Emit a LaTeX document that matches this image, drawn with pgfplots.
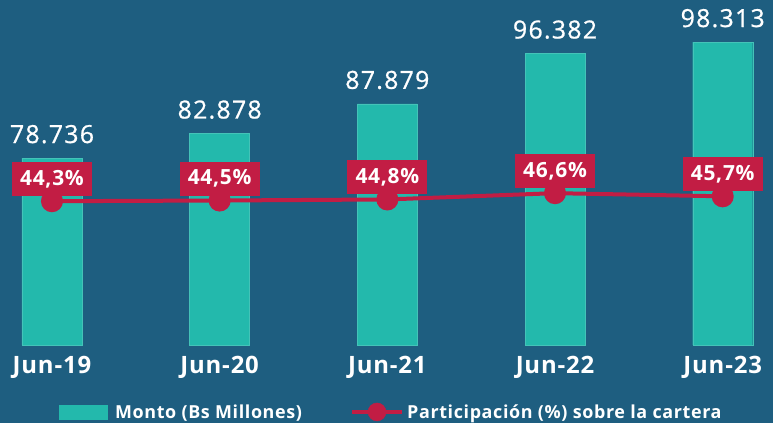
\documentclass[border=0pt]{standalone}
\usepackage{pgfplots}
\pgfplotsset{compat=1.18}
\usepackage{fontspec}
\setmainfont{Open Sans}
\newfontfamily\lsA{Open Sans}[LetterSpace=5, FakeBold=0.8]
\newfontfamily\lsB{Open Sans}[LetterSpace=3.5]
\definecolor{bg}{HTML}{1E5E80}
\definecolor{barc}{HTML}{23B9AC}
\definecolor{redc}{HTML}{C21D44}
\begin{document}
\begin{tikzpicture}
\fill[bg] (0,0) rectangle (773bp,423bp);
\begin{axis}[
  at={(0bp,78bp)}, anchor=south west, scale only axis,
  width=773bp, height=325bp,
  xmin=-0.31, xmax=4.30, ymin=47180, ymax=102030,
  axis line style={draw=none}, tick style={draw=none},
  ytick=\empty, xtick=data,
  xticklabels={Jun-19,Jun-20,Jun-21,Jun-22,Jun-23},
  xticklabel style={text=white, font=\lsB\bfseries\fontsize{24}{26}\selectfont, yshift=-3bp},
  ybar, bar width=60bp, clip=false,
  /pgf/number format/assume math mode=true,
  point meta=y,
  nodes near coords={\pgfmathprintnumber[fixed,precision=0,1000 sep={.}]{\pgfplotspointmeta}},
  every node near coord/.append style={text=white, font=\lsA\fontsize{25}{28}\selectfont, anchor=base, yshift=15bp},
  legend style={at={(0.506,-0.206)}, anchor=center, draw=none, fill=none,
    text=white, font=\lsB\bfseries\fontsize{18}{20}\selectfont, legend columns=2,
    /tikz/every even column/.append style={column sep=46bp}},
]
\addplot[fill=barc, draw=barc!85!white,
  legend image code/.code={\fill[barc] (0bp,-7bp) rectangle (48bp,7bp); \path (54bp,0bp);}]
  coordinates {(0,78736) (1,82878) (2,87879) (3,96382) (4,98313)};
\addlegendentry{Monto (Bs Millones)}
\addlegendimage{legend image code/.code={\draw[redc,line width=4bp] (0bp,0bp) -- (50bp,0bp); \fill[redc] (25bp,0bp) circle (9bp); \path (53bp,0bp);}}
\addlegendentry{Participación (\%) sobre la cartera}
\end{axis}
\begin{axis}[
  at={(0bp,78bp)}, anchor=south west, scale only axis,
  width=773bp, height=325bp,
  xmin=-0.31, xmax=4.30, ymin=3.2, ymax=96.1,
  hide axis, clip=false,
  /pgf/number format/assume math mode=true,
]
\addplot[redc, line width=4bp, mark=*, mark size=9bp, mark options={fill=redc, draw=redc},
  point meta=y,
  nodes near coords={\pgfmathprintnumber[fixed,fixed zerofill,precision=1,use comma]{\pgfplotspointmeta}\%},
  every node near coord/.append style={fill=redc, draw=none, text=white,
    font=\lsB\bfseries\fontsize{21}{24}\selectfont, minimum width=80bp, minimum height=34bp,
    inner sep=0pt, anchor=south, yshift=3bp,
    append after command={\pgfextra{}}}]
  coordinates {(0,44.3) (1,44.5) (2,44.8) (3,46.6) (4,45.7)};
\addplot[only marks, mark=*, mark size=9bp, mark options={fill=redc, draw=redc}]
  coordinates {(0,44.3) (1,44.5) (2,44.8) (3,46.6) (4,45.7)};
\end{axis}
\pgfresetboundingbox
\path (0,0) rectangle (773bp,423bp);
\end{tikzpicture}
\end{document}
